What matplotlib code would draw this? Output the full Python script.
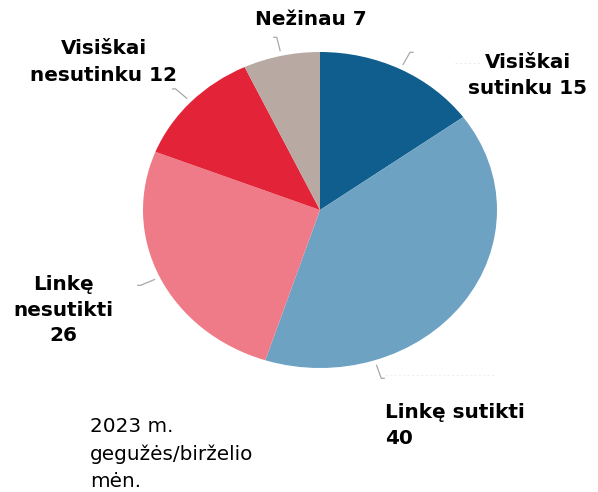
import numpy as np
import matplotlib
matplotlib.use("Agg")
import matplotlib.pyplot as plt

# ---- data ----
categories = ["Visiškai sutinku", "Linkę sutikti", "Linkę nesutikti", "Visiškai nesutinku", "Nežinau"]
values = [15, 40, 26, 12, 7]
label_lines = [
    ["Visiškai", "sutinku 15"],
    ["Linkę sutikti", "40"],
    ["Linkę", "nesutikti", "26"],
    ["Visiškai", "nesutinku 12"],
    ["Nežinau 7"],
]
note_lines = ["2023 m.", "gegužės/birželio", "mėn."]

# ---- style ----
colors = ["#0f5e8e", "#6ea2c3", "#f07b88", "#e32337", "#b8aaa2"]
W, H = 598, 492
cx, cy, rx, ry = 320, 210, 177, 158

fig = plt.figure(figsize=(W / 100, H / 100), dpi=100)
ax = fig.add_axes([0, 0, 1, 1])
ax.pie(values, colors=colors, startangle=90, counterclock=False,
       wedgeprops=dict(linewidth=0))
ax.set_aspect("auto")
ax.set_xlim(-cx / rx, (W - cx) / rx)
ax.set_ylim(-(H - cy) / ry, cy / ry)
ax.axis("off")

# leader lines
cum = np.cumsum([0] + values[:-1])
mids = 90 - (cum + np.array(values) / 2) / sum(values) * 360
leader_angles = list(mids)
leader_angles[1] = -72
leader_dirs = [1, 1, -1, -1, -1]
for ang, d in zip(leader_angles, leader_dirs):
    a = np.deg2rad(ang)
    x0, y0 = 1.03 * np.cos(a), 1.03 * np.sin(a)
    x1, y1 = 1.12 * np.cos(a), 1.12 * np.sin(a)
    ax.plot([x0, x1, x1 + d * 0.02], [y0, y1, y1], color="#a8a8a8", lw=0.9,
            solid_capstyle="butt", clip_on=False)

# overlay axes in pixel coordinates for text
tx = fig.add_axes([0, 0, 1, 1], facecolor="none")
tx.set_xlim(0, W)
tx.set_ylim(H, 0)
tx.axis("off")

# faint guide lines
tx.plot([455, 480], [63, 63], color="#ececec", lw=0.8, ls=(0, (2, 2)))
tx.plot([385, 495], [375, 375], color="#f0f0f0", lw=0.8, ls=(0, (2, 2)))

label_pos = [  # x, first baseline, alignment, line step
    (528, 68, "center", 26),
    (385, 418, "left", 25.5),
    (63, 290, "center", 25.5),
    (104, 54, "center", 27),
    (311, 25, "center", 27),
]
fs = 14.4
for lines, (x, y, ha, step) in zip(label_lines, label_pos):
    for i, line in enumerate(lines):
        tx.text(x, y + i * step, line, ha=ha, va="baseline", fontsize=fs,
                fontweight="bold", family="DejaVu Sans", color="#000000")

for i, line in enumerate(note_lines):
    tx.text(90, 432 + i * 27.5, line, ha="left", va="baseline", fontsize=fs,
            family="DejaVu Sans", color="#000000")

fig.savefig("out.png", dpi=100)
